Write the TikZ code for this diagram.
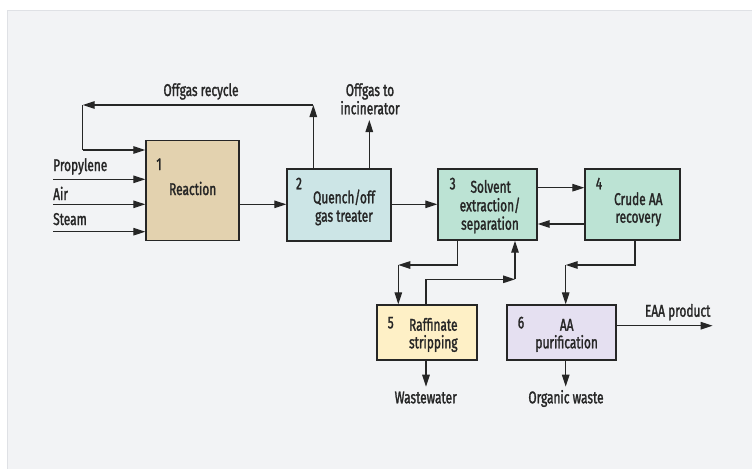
\documentclass[tikz,border=0pt]{standalone}
\usepackage{fontspec}
\setmainfont{Fira Sans}[FakeStretch=0.7, FakeBold=1.6]
\usetikzlibrary{arrows.meta}

\definecolor{panel}{HTML}{F2F3F5}
\definecolor{panelrule}{HTML}{DFE1E5}
\definecolor{ink}{HTML}{262626}
\definecolor{reactfill}{HTML}{E3D2AF}
\definecolor{quenchfill}{HTML}{CCE5E6}
\definecolor{solventfill}{HTML}{BCE3D4}
\definecolor{raffill}{HTML}{FEF0C6}
\definecolor{purifill}{HTML}{E5E0F1}

\tikzset{
  unit/.style={draw=ink, line width=1.4pt, inner sep=0pt},
  txt/.style={anchor=base, inner sep=0pt, text=ink, font=\fontsize{17}{18}\selectfont},
  txtl/.style={txt, anchor=base west},
  arr/.style={draw=ink, line width=1.3pt, -{Triangle[length=12pt,width=7.5pt]}},
  pipe/.style={draw=ink, line width=1.3pt},
}

\begin{document}
\begin{tikzpicture}[x=1pt,y=-1pt]
% canvas and panel
\useasboundingbox (0,0) rectangle (752,469);
\fill[white] (0,0) rectangle (752,469);
\fill[panel] (7,10) rectangle (752,469);
\draw[panelrule, line width=1.2pt] (7.6,469) -- (7.6,10.6) -- (752,10.6);

% process units
\node[unit, fill=reactfill,   minimum width=93pt,  minimum height=100pt] (b1) at (192.5,190.5) {};
\node[unit, fill=quenchfill,  minimum width=104pt, minimum height=72pt]  (b2) at (339,205) {};
\node[unit, fill=solventfill, minimum width=99pt,  minimum height=71pt]  (b3) at (487.5,204.5) {};
\node[unit, fill=solventfill, minimum width=95pt,  minimum height=71pt]  (b4) at (632.5,204.5) {};
\node[unit, fill=raffill,     minimum width=100pt, minimum height=55pt]  (b5) at (427,332.5) {};
\node[unit, fill=purifill,    minimum width=109pt, minimum height=55pt]  (b6) at (561.5,332.5) {};

% unit numbers and names
\node[txt] (n1) at (159,170) {1};
\node[txt] (t1) at (192.7,195) {Reaction};
\node[txt] (n2) at (299,189.3) {2};
\node[txt] (t2a) at (344,203.3) {Quench/off};
\node[txt] (t2b) at (344,221.7) {gas treater};
\node[txt] (n3) at (452.7,189.3) {3};
\node[txt] (t3a) at (490.7,192.7) {Solvent};
\node[txt] (t3b) at (490,211.3) {extraction/};
\node[txt] (t3c) at (490,229.7) {separation};
\node[txt] (n4) at (599,189.3) {4};
\node[txt] (t4a) at (638.3,205) {Crude AA};
\node[txt] (t4b) at (638.3,222.7) {recovery};
\node[txt] (n5) at (390.7,328.3) {5};
\node[txt] (t5a) at (433.3,330.7) {Raffinate};
\node[txt] (t5b) at (433.3,348.3) {stripping};
\node[txt] (n6) at (521,328.3) {6};
\node[txt] (t6a) at (566.7,330.7) {AA};
\node[txt] (t6b) at (566.7,348.3) {purification};

% feed streams
\node[txtl] (lp) at (53,171) {Propylene};
\node[txtl] (la) at (53,200) {Air};
\node[txtl] (ls) at (53,225) {Steam};
\coordinate (fp) at (53,179.3);
\coordinate (fa) at (53,204.3);
\coordinate (fs) at (53,231.7);
\draw[arr] (fp) -- (fp -| b1.west);
\draw[arr] (fa) -- (fa -| b1.west);
\draw[arr] (fs) -- (fs -| b1.west);

% main train
\draw[arr] (b1.east |- 0,204.3) -- (b2.west |- 0,204.3);
\draw[arr] (b2.east |- 0,204.3) -- (b3.west |- 0,204.3);
\draw[arr] (b3.east |- 0,187.7) -- (b4.west |- 0,187.7);
\draw[arr] (b4.west |- 0,224) -- (b3.east |- 0,224);

% offgas recycle loop
\coordinate (rc1) at (313.3,105);
\coordinate (rc2) at (82.7,105);
\coordinate (rc3) at (82.7,150);
\draw[arr] (b2.north -| rc1) -- (rc1);
\draw[arr] (rc1) -- (rc2);
\draw[pipe] (rc2) -- (rc3);
\draw[arr] (rc3) -- (rc3 -| b1.west);
\node[txt] (lrc) at (201,96) {Offgas recycle};

% offgas to incinerator
\coordinate (inc) at (369.3,120);
\draw[arr] (b2.north -| inc) -- (inc);
\node[txt] (linca) at (370,96) {Offgas to};
\node[txt] (lincb) at (370,114.3) {incinerator};

% extraction / stripping loop
\coordinate (sx1) at (457.7,265);
\coordinate (sx2) at (398.3,265);
\draw[arr] (b3.south -| sx1) |- (sx2);
\draw[arr] (sx2) -- (b5.north -| sx2);
\coordinate (rt1) at (426,279.3);
\coordinate (rt2) at (515,279.3);
\draw[arr] (b5.north -| rt1) |- (rt2);
\draw[arr] (rt2) -- (b3.south -| rt2);

% crude AA to purification
\coordinate (cp1) at (635,265);
\coordinate (cp2) at (565.7,265);
\draw[arr] (b4.south -| cp1) |- (cp2);
\draw[arr] (cp2) -- (b6.north -| cp2);

% products and wastes
\coordinate (ww) at (426,386.7);
\draw[arr] (b5.south -| ww) -- (ww);
\node[txt] (lww) at (425.7,403.3) {Wastewater};
\coordinate (ow) at (565.7,386.7);
\draw[arr] (b6.south -| ow) -- (ow);
\node[txt] (low) at (566,403.3) {Organic waste};
\coordinate (ep) at (712.7,325.7);
\draw[arr] (b6.east |- ep) -- (ep);
\node[txt] (lep) at (677.7,316.7) {EAA product};
\end{tikzpicture}
\end{document}
